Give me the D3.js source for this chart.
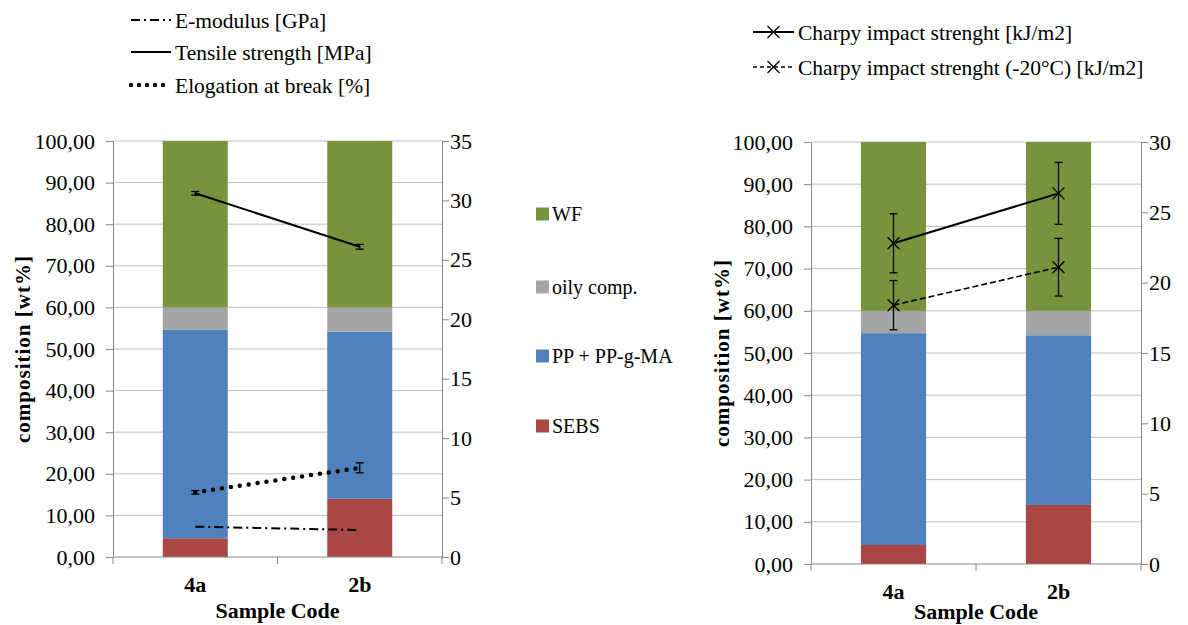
<!DOCTYPE html>
<html>
<head>
<meta charset="utf-8">
<script src="https://cdn.jsdelivr.net/npm/d3@7"></script>
<style>
  body { margin: 0; background: #fff; }
  svg text { font-family: "Liberation Serif", "Times New Roman", serif; fill: #000; }
</style>
</head>
<body>
<div id="chart"></div>
<script>
// composition data (wt%)
var categories = ["4a", "2b"];
var sebs = [4.5, 14.0],
    ppMa = [50.2, 40.2],
    oily = [5.3, 5.8],
    wf   = [40.0, 40.0];

// mechanical properties, left panel (secondary axis 0-35)
var eModulus = [2.55, 2.27],
    tensile = [30.6, 26.1],
    tensileErr = [0.15, 0.2],
    elongation = [5.44, 7.5],
    elongationErr = [0.15, 0.42];

// impact, right panel (secondary axis 0-30)
var charpy = [22.8, 26.35],
    charpyErr = [2.1, 2.2],
    charpyCold = [18.4, 21.1],
    charpyColdErr = [1.75, 2.05];

var compKeys = ["sebs", "pp", "oily", "wf"],
    compLabels = { wf: "WF", oily: "oily comp.", pp: "PP + PP-g-MA", sebs: "SEBS" },
    compColors = { sebs: "#AA4643", pp: "#4F81BD", oily: "#A5A5A5", wf: "#77933C" };

var rows = categories.map(function(c, i) {
    return { cat: c, sebs: sebs[i], pp: ppMa[i], oily: oily[i], wf: wf[i] };
});
var stacked = d3.stack().keys(compKeys)(rows);

var svg = d3.select("#chart").append("svg")
    .attr("width", 1188)
    .attr("height", 625);

var fmt = function(d) { return d3.format(".2f")(d).replace(".", ","); };

function drawPanel(cfg) {
    var x = d3.scaleBand().domain(categories)
        .range([cfg.x0, cfg.x1])
        .paddingInner(0.605).paddingOuter(0.3025);
    var y = d3.scaleLinear().domain([0, 100]).range([cfg.yb, cfg.yt]);
    var y2 = d3.scaleLinear().domain([0, cfg.y2max]).range([cfg.yb, cfg.yt]);
    var g = svg.append("g");

    // gridlines
    g.selectAll(".grid").data(d3.range(10, 101, 10)).enter().append("line")
        .attr("x1", cfg.x0).attr("x2", cfg.x1)
        .attr("y1", function(d) { return y(d); }).attr("y2", function(d) { return y(d); })
        .attr("stroke", "#BFBFBF").attr("stroke-width", 1);

    // stacked bars
    g.selectAll(".layer").data(stacked).enter().append("g")
        .attr("fill", function(d) { return compColors[d.key]; })
      .selectAll("rect").data(function(d) { return d; }).enter().append("rect")
        .attr("x", function(d) { return x(d.data.cat); })
        .attr("width", x.bandwidth())
        .attr("y", function(d) { return y(d[1]); })
        .attr("height", function(d) { return y(d[0]) - y(d[1]); });

    // left axis
    var ax = d3.axisLeft(y).tickValues(d3.range(0, 101, 10)).tickFormat(fmt)
        .tickSize(7).tickSizeOuter(0).tickPadding(11);
    var ag = g.append("g").attr("transform", "translate(" + cfg.x0 + ",0)").call(ax);
    // right axis
    var ax2 = d3.axisRight(y2).tickValues(d3.range(0, cfg.y2max + 1, 5))
        .tickSize(7).tickSizeOuter(0).tickPadding(1);
    var ag2 = g.append("g").attr("transform", "translate(" + cfg.x1 + ",0)").call(ax2);
    [ag, ag2].forEach(function(a) {
        a.selectAll("path, line").attr("stroke", "#868686");
        a.selectAll("text").style("font-size", "22px").attr("fill", "#000");
    });

    // x axis
    var step = x.step();
    g.append("line").attr("x1", cfg.x0).attr("x2", cfg.x1)
        .attr("y1", cfg.yb).attr("y2", cfg.yb).attr("stroke", "#868686");
    g.selectAll(".xt").data(d3.range(categories.length + 1)).enter().append("line")
        .attr("x1", function(i) { return cfg.x0 + i * step; })
        .attr("x2", function(i) { return cfg.x0 + i * step; })
        .attr("y1", cfg.yb).attr("y2", cfg.yb + 7).attr("stroke", "#868686");
    g.selectAll(".xl").data(categories).enter().append("text")
        .attr("x", function(d) { return x(d) + x.bandwidth() / 2; })
        .attr("y", cfg.yb + 35)
        .attr("text-anchor", "middle")
        .style("font-size", "22px").style("font-weight", "bold")
        .text(function(d) { return d; });
    g.append("text")
        .attr("x", (cfg.x0 + cfg.x1) / 2).attr("y", cfg.titleY)
        .attr("text-anchor", "middle")
        .style("font-size", "22px").style("font-weight", "bold")
        .text("Sample Code");
    g.append("text")
        .attr("transform", "translate(" + cfg.titleX + "," + (cfg.yb + cfg.yt) / 2 + ") rotate(-90)")
        .attr("text-anchor", "middle")
        .style("font-size", "21px").style("font-weight", "bold")
        .style("letter-spacing", "1px")
        .text("composition [wt%]");

    var cx = function(i) { return x(categories[i]) + x.bandwidth() / 2; };

    cfg.series.forEach(function(s) {
        var line = d3.line().x(function(d, i) { return cx(i); }).y(function(d) { return y2(d); });
        g.append("path").datum(s.values)
            .attr("d", line)
            .attr("fill", "none")
            .attr("stroke", "#000")
            .attr("stroke-width", s.width || 2)
            .attr("stroke-dasharray", s.dash || null)
            .attr("stroke-linecap", s.cap || "butt");
        if (s.err) {
            s.values.forEach(function(v, i) {
                var e = s.err[i], xx = cx(i);
                var eg = g.append("g").attr("stroke", "#000").attr("stroke-width", 1.3);
                eg.append("line").attr("x1", xx).attr("x2", xx).attr("y1", y2(v - e)).attr("y2", y2(v + e));
                [v - e, v + e].forEach(function(t) {
                    eg.append("line").attr("x1", xx - 4).attr("x2", xx + 4).attr("y1", y2(t)).attr("y2", y2(t));
                });
            });
        }
        if (s.marker) {
            s.values.forEach(function(v, i) {
                drawX(g, cx(i), y2(v));
            });
        }
    });
}

function drawX(g, px, py) {
    var r = 6;
    g.append("path")
        .attr("d", "M" + (px - r) + "," + (py - r) + "L" + (px + r) + "," + (py + r) +
                   "M" + (px - r) + "," + (py + r) + "L" + (px + r) + "," + (py - r))
        .attr("stroke", "#000").attr("stroke-width", 1.3).attr("fill", "none");
}

drawPanel({
    x0: 113, x1: 442, yt: 141, yb: 557, y2max: 35, titleX: 30, titleY: 618,
    series: [
        { values: eModulus, dash: "9,4,2,4", width: 2 },
        { values: tensile, err: tensileErr, width: 2 },
        { values: elongation, err: elongationErr, dash: "0,9", width: 4.5, cap: "round" }
    ]
});

drawPanel({
    x0: 811, x1: 1141, yt: 142, yb: 564, y2max: 30, titleX: 729, titleY: 619,
    series: [
        { values: charpy, err: charpyErr, width: 2, marker: true },
        { values: charpyCold, err: charpyColdErr, dash: "6,3", width: 1.6, marker: true }
    ]
});

// composition legend
var compOrder = ["wf", "oily", "pp", "sebs"],
    compLegY = [214, 287, 356, 426];
compOrder.forEach(function(k, i) {
    svg.append("rect").attr("x", 536).attr("y", compLegY[i] - 6.5)
        .attr("width", 13).attr("height", 13).attr("fill", compColors[k]);
    svg.append("text").attr("x", 552).attr("y", compLegY[i]).attr("dy", "0.35em")
        .style("font-size", "20px").text(compLabels[k]);
});

// line legends
var leftLeg = [
    { label: "E-modulus [GPa]", dash: "9,4,2,4", width: 2, y: 20 },
    { label: "Tensile strength [MPa]", width: 2, y: 52 },
    { label: "Elogation at break [%]", dash: "0,8", width: 4.5, cap: "round", y: 85 }
];
leftLeg.forEach(function(l) {
    svg.append("line").attr("x1", 131).attr("x2", 171).attr("y1", l.y).attr("y2", l.y)
        .attr("stroke", "#000").attr("stroke-width", l.width)
        .attr("stroke-dasharray", l.dash || null).attr("stroke-linecap", l.cap || "butt");
    svg.append("text").attr("x", 175).attr("y", l.y).attr("dy", "0.35em")
        .style("font-size", "21.5px").text(l.label);
});

var rightLeg = [
    { label: "Charpy impact strenght [kJ/m2]", width: 2, y: 32 },
    { label: "Charpy impact strenght (-20°C) [kJ/m2]", dash: "4,3", width: 1.6, y: 67 }
];
rightLeg.forEach(function(l) {
    svg.append("line").attr("x1", 753).attr("x2", 794).attr("y1", l.y).attr("y2", l.y)
        .attr("stroke", "#000").attr("stroke-width", l.width)
        .attr("stroke-dasharray", l.dash || null);
    drawX(svg, 773.5, l.y);
    svg.append("text").attr("x", 798).attr("y", l.y).attr("dy", "0.35em")
        .style("font-size", "21.5px").text(l.label);
});
</script>
</body>
</html>
